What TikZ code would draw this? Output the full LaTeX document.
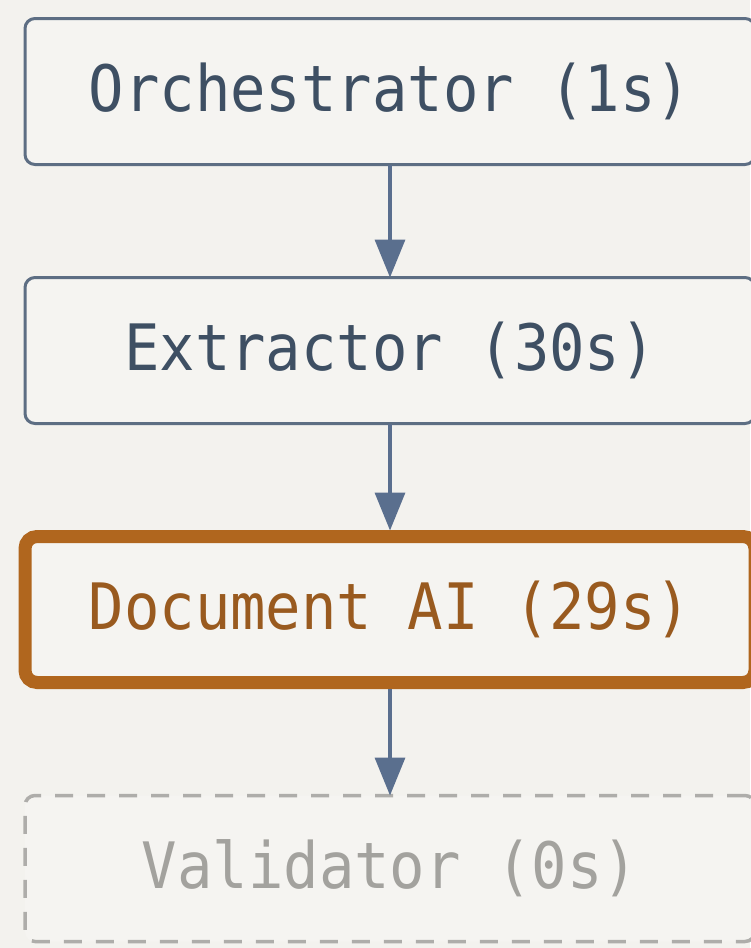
\documentclass[tikz,border=0pt]{standalone}
\usepackage{fontspec}
\newfontfamily\stagefont[FakeStretch=0.92]{DejaVu Sans Mono}
\usepackage{xcolor}
\usetikzlibrary{arrows.meta,positioning}

\definecolor{paper}{HTML}{F3F2EE}
\definecolor{boxfill}{HTML}{F5F4F1}
\definecolor{slateline}{HTML}{5D6E83}
\definecolor{slatetext}{HTML}{3E4F63}
\definecolor{arrowblue}{HTML}{5A6F8E}
\definecolor{hotline}{HTML}{B0661E}
\definecolor{hottext}{HTML}{995A1F}
\definecolor{idleline}{HTML}{AEADAA}
\definecolor{idletext}{HTML}{A3A29E}

\begin{document}
\begin{tikzpicture}[
    x=1pt, y=1pt,
    node distance=113pt,
    stage/.style={draw=slateline, fill=boxfill, rectangle, rounded corners=10pt, line width=3pt,
        outer sep=0pt, minimum width=730pt, minimum height=146pt, text=slatetext,
        font=\stagefont\fontsize{64}{66}\selectfont},
    hot/.style={stage, draw=hotline, line width=13pt, rounded corners=12pt, text=hottext},
    idle/.style={stage, draw=idleline, line width=3.5pt, dash pattern=on 18pt off 14pt, text=idletext},
    flow/.style={-{Triangle[width=30pt,length=38pt]}, draw=arrowblue, fill=arrowblue, line width=3.5pt}
]
    \useasboundingbox[fill=paper] (0,0) rectangle (750,-948);

    % Pipeline stages
    \node[stage] (orch) at (390,-91.5) {Orchestrator (1s)};
    \node[stage, below=of orch] (extract) {Extractor (30s)};
    \node[hot, below=of extract] (docai) {Document AI (29s)};
    \node[idle, below=of docai] (validate) {Validator (0s)};

    % Arrows
    \draw[flow] (orch) -- (extract);
    \draw[flow, shorten >=6pt] (extract) -- (docai);
    \draw[flow, shorten <=6pt] (docai) -- (validate);
\end{tikzpicture}
\end{document}
